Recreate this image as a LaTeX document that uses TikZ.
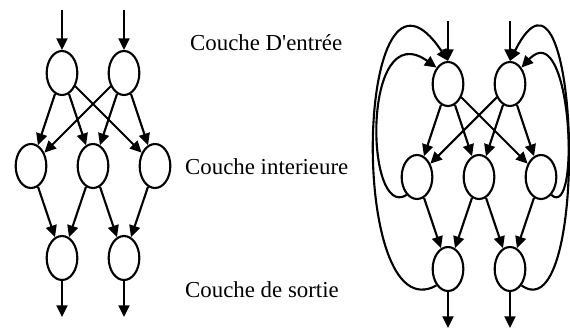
\documentclass[tikz,border=0pt]{standalone}
\usepackage{fontspec}
\setmainfont{Liberation Serif}
\usetikzlibrary{shapes.geometric, arrows.meta}

\begin{document}
\begin{tikzpicture}[x=0.03cm, y=0.03cm,
    neuron/.style={draw, ellipse, line width=1.8pt, minimum width=0.92cm, minimum height=1.32cm, inner sep=0pt},
    link/.style={-{Triangle[length=3.5mm, width=3.3mm]}, line width=1.8pt},
    layer/.style={anchor=west, inner sep=0pt, font=\fontsize{19.5}{23}\selectfont}]
    \useasboundingbox (0,0) rectangle (570,-333);

    % --- Both networks: L (left, feed-forward) and R (right, shifted) ---
    \foreach \n/\dx/\dy in {L/0/0, R/386/11} {
        \begin{scope}[shift={(\dx,-\dy)}]
            % Nodes
            \node[neuron] (\n i1) at (62,-73) {};
            \node[neuron] (\n i2) at (124,-73) {};
            \node[neuron] (\n h1) at (31,-166) {};
            \node[neuron] (\n h2) at (93,-166) {};
            \node[neuron] (\n h3) at (155,-166) {};
            \node[neuron] (\n o1) at (62,-258) {};
            \node[neuron] (\n o2) at (124,-258) {};
            \coordinate (\n in1) at (62,-10);
            \coordinate (\n in2) at (124,-10);
            \coordinate (\n out1) at (62,-317);
            \coordinate (\n out2) at (124,-317);

            % Connections
            \draw[link] (\n in1) -- (\n i1);
            \draw[link] (\n in2) -- (\n i2);
            \foreach \i in {1,2}
                \foreach \h in {1,2,3}
                    \draw[link] (\n i\i) -- (\n h\h);
            \foreach \h/\o in {1/1, 2/1, 2/2, 3/2}
                \draw[link] (\n h\h) -- (\n o\o);
            \draw[link] (\n o1) -- (\n out1);
            \draw[link] (\n o2) -- (\n out2);
        \end{scope}
    }

    % --- Right Diagram: feedback loops ---
    \draw[link] (Rh1.240) .. controls +(-42,-27) and +(-75,54) .. (Ri1.125);
    \draw[link] (Rh3.300) .. controls +(30,-27) and +(50,54) .. (Ri2.55);
    \draw[link] (Ro1.235) .. controls +(-90,-50) and +(-93,141) .. (Ri1.north);
    \draw[link] (Ro2.305) .. controls +(70,-50) and +(70,141) .. (Ri2.north);

    % Layer labels
    \node[layer] (lin)  at (190,-43)  {Couche D\textquotesingle entrée};
    \node[layer] (lhid) at (185,-167) {Couche interieure};
    \node[layer] (lout) at (185,-290) {Couche de sortie};
\end{tikzpicture}
\end{document}
